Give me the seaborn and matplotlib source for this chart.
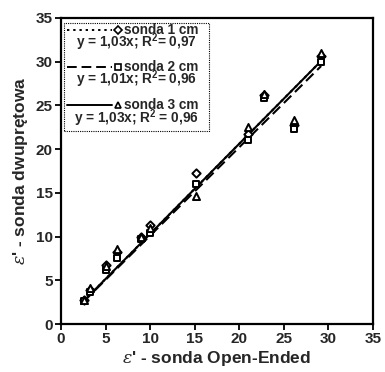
import numpy as np
import pandas as pd
import matplotlib
matplotlib.use("Agg")
import matplotlib.pyplot as plt
import seaborn as sns
from matplotlib.patches import Rectangle
from matplotlib.lines import Line2D

# ---- data ----
x_open = [2.6, 3.3, 5.0, 6.3, 9.0, 10.0, 15.2, 21.0, 22.8, 26.2, 29.2]
y_s1 = [2.7, 3.9, 6.8, 8.2, 10.0, 11.3, 17.3, 21.7, 26.2, 22.8, 30.6]
y_s2 = [2.6, 3.7, 6.2, 7.5, 9.7, 10.4, 16.0, 21.0, 25.8, 22.3, 30.0]
y_s3 = [2.8, 4.1, 6.6, 8.6, 10.0, 11.0, 14.6, 22.5, 26.3, 23.3, 31.0]
series = ["sonda 1 cm", "sonda 2 cm", "sonda 3 cm"]
slopes = [1.03, 1.01, 1.03]
equations = ["y = 1,03x; R$^2$= 0,97", "y = 1,01x; R$^2$= 0,96", "y = 1,03x; R$^2$ = 0,96"]
ticks = [0, 5, 10, 15, 20, 25, 30, 35]

sns.set_theme(style="ticks")
plt.rcParams["font.family"] = ["Liberation Sans", "DejaVu Sans"]
plt.rcParams["mathtext.fontset"] = "custom"
plt.rcParams["mathtext.rm"] = "Liberation Sans:bold"
plt.rcParams["mathtext.it"] = "DejaVu Serif:italic"

fig = plt.figure(figsize=(3.85, 3.72), dpi=100)
ax = fig.add_axes([0.1584, 0.129, 0.810, 0.823])

markers = ["D", "s", "^"]
msizes = [18, 20, 26]
styles = [(0, (1.2, 2.0)), (0, (5, 2.5)), "-"]

all_y = [y_s1, y_s2, y_s3]
for i, name in enumerate(series):
    df = pd.DataFrame({"x": x_open, "y": all_y[i]})
    sns.scatterplot(data=df, x="x", y="y", marker=markers[i], s=msizes[i],
                    facecolor="white", edgecolor="black", linewidth=1.4, ax=ax,
                    zorder=3)
    xl = np.array([min(x_open), max(x_open)])
    ldf = pd.DataFrame({"x": xl, "y": slopes[i] * xl})
    sns.lineplot(data=ldf, x="x", y="y", color="black", linewidth=1.5,
                 linestyle=styles[i], ax=ax, zorder=2)

ax.set_xlim(0, 35)
ax.set_ylim(0, 35)
ax.set_xticks(ticks)
ax.set_yticks(ticks)
ax.set_xticklabels([str(t) for t in ticks], fontsize=11, fontweight="bold")
ax.set_yticklabels([str(t) for t in ticks], fontsize=11, fontweight="bold")
ax.tick_params(direction="out", length=4, width=1.3, color="black", pad=2)
for s in ax.spines.values():
    s.set_linewidth(1.6)
    s.set_color("black")
ax.set_xlabel("$\\varepsilon$' - sonda Open-Ended", fontsize=12.5, fontweight="bold", labelpad=2)
ax.set_ylabel("$\\varepsilon$' - sonda dwupr\u0119towa", fontsize=12.5, fontweight="bold", labelpad=4)

# ---- legend box (manual) ----
tr = ax.transAxes
ax.add_patch(Rectangle((0.0096, 0.631), 0.464, 0.353, transform=tr, fill=True,
                       facecolor="white", edgecolor="black", linewidth=0.8,
                       linestyle=(0, (1, 1)), zorder=4))
row_y = [0.961, 0.840, 0.716]
eq_y = [0.920, 0.799, 0.672]
for i in range(3):
    ax.add_line(Line2D([0.018, 0.165], [row_y[i], row_y[i]], transform=tr,
                       color="black", linewidth=1.4, linestyle=styles[i], zorder=5))
    ax.add_line(Line2D([0.183], [row_y[i]], transform=tr, marker=markers[i],
                       markersize=4.5, markerfacecolor="white", markeredgecolor="black",
                       markeredgewidth=1.2, linestyle="none", zorder=5))
    ax.text(0.203, row_y[i], series[i], transform=tr, fontsize=9.8,
            fontweight="bold", va="center", ha="left", zorder=6)
    ax.text(0.242, eq_y[i], equations[i], transform=tr, fontsize=9.8,
            fontweight="bold", va="center", ha="center", zorder=6)

fig.savefig("out.png", dpi=100)
